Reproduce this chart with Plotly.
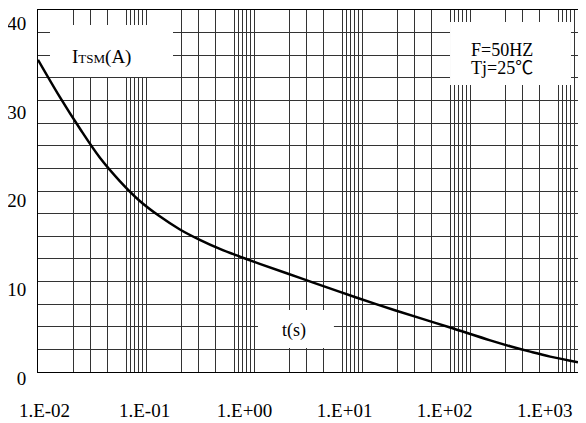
import plotly.graph_objects as go

# ---- data ----
time_s = [0.01, 0.0159, 0.0244, 0.0373, 0.0572, 0.0876, 0.134, 0.206, 0.315, 0.483,
          0.74, 1.13, 2.66, 6.25, 13.5, 34.5, 64.4, 154, 235, 361, 553, 1000]
itsm_a = [34.5, 30.4, 26.9, 23.7, 21.1, 18.9, 17.2, 15.75, 14.6, 13.6,
          12.75, 11.95, 10.4, 8.85, 7.5, 5.95, 4.95, 3.5, 2.85, 2.25, 1.7, 1.08]
x_tick_labels = ["1.E-02", "1.E-01", "1.E+00", "1.E+01", "1.E+02", "1.E+03"]
y_tick_values = [0, 10, 20, 30, 40]

# ---- styling ----
GRID_FRACTIONS = [0.0, 0.33, 0.487, 0.64, 0.815, 0.857, 0.894, 0.93, 0.97]
grid_vals = [10 ** (d + f) for d in range(-2, 3) for f in GRID_FRACTIONS] + [1000]
FONT = "Liberation Serif"
FONT_CJK = "Liberation Serif, Noto Sans CJK SC"
GRID = "#333333"

fig = go.Figure()
fig.add_trace(go.Scatter(
    x=time_s, y=itsm_a, mode="lines",
    line=dict(color="black", width=2.5, shape="spline", smoothing=1.0),
    showlegend=False, hoverinfo="skip"))
fig.add_trace(go.Scatter(x=[], y=[], xaxis="x2", yaxis="y2",
                         showlegend=False, hoverinfo="skip"))

# the page body adds an 8px offset, so the figure is 8px smaller than the window
fig.update_layout(
    width=578, height=415,
    margin=dict(l=30, r=8, t=2, b=51, autoexpand=False),
    paper_bgcolor="white", plot_bgcolor="white",
    xaxis=dict(type="log", range=[-2, 3], tickmode="array", tickvals=grid_vals,
               showticklabels=False, ticks="", showgrid=True, gridcolor=GRID,
               gridwidth=1, showline=True, mirror=True, linecolor="black",
               linewidth=1, zeroline=False, automargin=False),
    yaxis=dict(range=[0, 40], tick0=0, dtick=2.5, showticklabels=False, ticks="",
               showgrid=True, gridcolor=GRID, gridwidth=1, showline=True,
               mirror=True, linecolor="black", linewidth=1, zeroline=False,
               automargin=False),
    xaxis2=dict(overlaying="x", anchor="y", side="bottom", range=[-0.065, 5.333],
                tickmode="array", tickvals=list(range(len(x_tick_labels))),
                ticktext=x_tick_labels, showgrid=False, zeroline=False,
                showline=False, ticks="outside", ticklen=21,
                tickcolor="rgba(0,0,0,0)", automargin=False,
                tickfont=dict(family=FONT, size=19, color="black")),
    yaxis2=dict(overlaying="y", anchor="x", side="left", range=[-0.001, 40.86],
                tickmode="array", tickvals=y_tick_values, showgrid=False,
                zeroline=False, showline=False, ticks="outside", ticklen=7,
                tickcolor="rgba(0,0,0,0)", automargin=False, ticklabelshift=6,
                tickfont=dict(family=FONT, size=19, color="black")),
)

# white label boxes that interrupt the grid
for x0, x1, y0, y1 in [(0.0222, 0.25, 0.815, 0.9586),
                       (0.763, 0.987, 0.793, 0.967),
                       (0.4074, 0.548, 0.0663, 0.1713)]:
    fig.add_shape(type="rect", xref="paper", yref="paper", x0=x0, x1=x1,
                  y0=y0, y1=y1, fillcolor="white", line=dict(width=0),
                  layer="above")

ann_font = dict(family=FONT_CJK, size=18, color="black")
common = dict(xref="paper", yref="paper", showarrow=False,
              xanchor="center", yanchor="middle")
fig.add_annotation(x=0.1167, y=0.870,
                   text="I<span style='font-size:13px'>TSM</span>(A)",
                   font=dict(family=FONT, size=19, color="black"), **common)
fig.add_annotation(x=0.859, y=0.8895, text="F=50HZ", font=ann_font, **common)
fig.add_annotation(x=0.859, y=0.8398, text="Tj=25℃", font=ann_font, **common)
fig.add_annotation(x=0.474, y=0.116, text="t(s)", font=ann_font, **common)

fig.write_html("out.html")
